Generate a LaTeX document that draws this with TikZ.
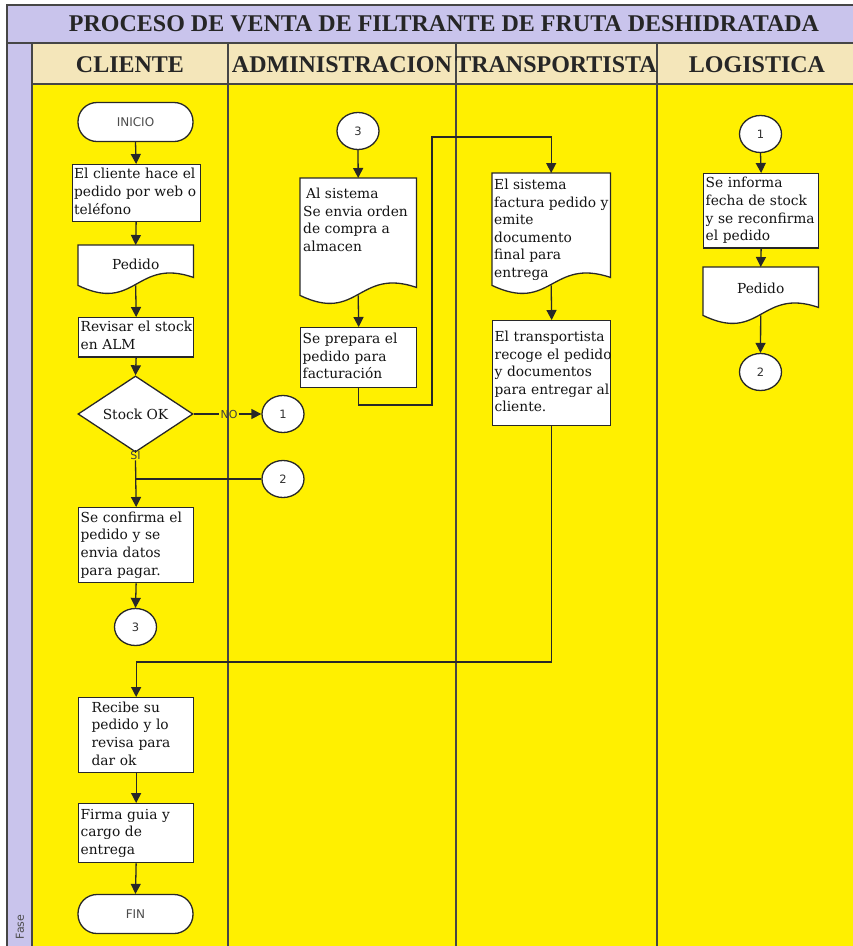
\documentclass[tikz,border=0pt]{standalone}
\usepackage{fontspec}
\setmainfont{Liberation Serif}
\newfontfamily\boxfont{DejaVu Serif}
\newfontfamily\sansfont{DejaVu Sans}
\usetikzlibrary{shapes.geometric,arrows.meta,calc}
\definecolor{lav}{RGB}{201,196,236}
\definecolor{hdr}{RGB}{244,230,186}
\definecolor{lane}{RGB}{255,240,0}
\definecolor{frm}{RGB}{70,70,70}
\definecolor{linec}{RGB}{40,40,40}
\newcommand\tx[1]{\begin{tabular}{@{}l@{}}#1\end{tabular}}
\newcommand\txi[1]{\begin{tabular}{@{\hspace{11pt}}l@{}}#1\end{tabular}}
\newcommand\docpath[1]{\draw[docline] (#1.north west) -- (#1.north east) -- ($(#1.south east)+(0,-8)$) .. controls ($(#1.south)+(0,-28)$) and ($(#1.south)+(0,28)$) .. (#1.south west) -- cycle;}
\begin{document}
\begin{tikzpicture}[x=1pt,y=-1pt,
  bt/.style={font=\boxfont\fontsize{13.8}{17.6}\selectfont, text=black!92},
  proc/.style={bt, draw=linec, fill=white, line width=1.3pt, anchor=north west, align=left, inner xsep=2pt, inner ysep=2pt},
  term/.style={draw=linec, fill=white, line width=1.3pt, rounded corners=19pt, minimum width=115pt, minimum height=39pt, inner sep=0pt, font=\sansfont\fontsize{12}{14}\selectfont, text=black!70},
  conn/.style={ellipse, draw=linec, fill=white, line width=1.3pt, minimum width=42pt, minimum height=37pt, inner sep=0pt, font=\sansfont\fontsize{11.5}{13}\selectfont, text=black!80},
  dec/.style={diamond, draw=linec, fill=white, line width=1.3pt, minimum width=115pt, minimum height=57pt, inner sep=0pt, bt},
  docn/.style={draw=none, anchor=north west, inner sep=0pt},
  docline/.style={draw=linec, fill=white, line width=1.3pt},
  doctxt/.style={bt, anchor=north west, align=left, inner sep=0pt},
  arr/.style={draw=linec, line width=1.3pt, -{Triangle[length=10pt,width=10pt]}},
  plainln/.style={draw=linec, line width=1.3pt},
  lbl/.style={font=\sansfont\fontsize{11}{13}\selectfont, inner sep=1pt, text=black!75},
  hd/.style={font=\fontsize{24}{28}\selectfont\bfseries, text=black!85},
  frmln/.style={draw=frm, line width=1.3pt},
]
\useasboundingbox (0,0) rectangle (853,946);
% background
\fill[lav] (7,5) rectangle (853,946);
\fill[hdr] (32,43) rectangle (853,84);
\fill[lane] (32,84) rectangle (853,946);
\draw[frmln, line width=1.6pt] (7,946) -- (7,5) -- (853,5);
\draw[frmln] (7,43) -- (853,43);
\draw[frmln] (32,43) -- (32,946);
\draw[frmln] (32,84) -- (853,84);
\foreach \x in {228,456,657} \draw[frmln] (\x,43) -- (\x,946);
% titles
\node[hd] (title) at (444,24) {PROCESO DE VENTA DE FILTRANTE DE FRUTA DESHIDRATADA};
\node[hd] (hcli) at (130,65) {CLIENTE};
\node[hd] (hadm) at (342,65) {ADMINISTRACION};
\node[hd] (htra) at (556,65) {TRANSPORTISTA};
\node[hd] (hlog) at (757,65) {LOGISTICA};
\node[rotate=90, font=\sansfont\fontsize{11}{13}\selectfont, text=black!70] (fase) at (20,927) {Fase};
% CLIENTE lane
\node[term] (ini) at (135.5,122) {INICIO};
\node[proc, text width=124pt, minimum height=55pt] (c1) at (71.5,164) {\tx{El cliente hace el\\pedido por web o\\teléfono}};
\node[docn, minimum width=115pt, minimum height=40pt] (dp1) at (78,245) {};
\docpath{dp1}
\node[bt] (dp1t) at ($(dp1.center)+(0,-1)$) {Pedido};
\node[proc, text width=111pt, minimum height=39pt] (c3) at (78,317) {\tx{Revisar el stock\\en ALM}};
\node[dec] (dia) at (135.5,414) {Stock OK};
\node[conn] (L1) at (283,414) {1};
\node[lbl] (no) at (229,414) {NO};
\node[lbl] (si) at (135.5,455) {SI};
\node[conn] (L2) at (283,479) {2};
\node[proc, text width=111pt, minimum height=75pt] (c5) at (78,507) {\tx{Se confirma el\\pedido y se\\envia datos\\para pagar.}};
\node[conn] (C3) at (135.5,627) {3};
\node[proc, text width=111pt, minimum height=75pt] (c6) at (78,697) {\txi{Recibe su\\pedido y lo\\revisa para\\dar ok}};
\node[proc, text width=111pt, minimum height=59pt] (c7) at (78,803) {\tx{Firma guia y\\cargo de\\entrega}};
\node[term] (fin) at (135.5,914) {FIN};
% ADMINISTRACION lane
\node[conn] (A3) at (358,131) {3};
\node[docn, minimum width=116pt, minimum height=117pt] (dA) at (300,178) {};
\docpath{dA}
\node[doctxt] (dAt) at (303,186) {\tx{\hspace{3pt}Al sistema\\Se envia orden\\de compra a\\almacen}};
\node[proc, text width=112pt, minimum height=60pt] (a2) at (300,327) {\tx{Se prepara el\\pedido para\\facturación}};
% TRANSPORTISTA lane
\node[docn, minimum width=118pt, minimum height=112pt] (dT) at (492,173) {};
\docpath{dT}
\node[doctxt] (dTt) at (494,177) {\tx{El sistema\\factura pedido y\\emite\\documento\\final para\\entrega}};
\node[proc, text width=114pt, minimum height=105pt] (t2) at (492,320) {\tx{El transportista\\recoge el pedido\\y documentos\\para entregar al\\cliente.}};
% LOGISTICA lane
\node[conn] (LL1) at (760.5,134) {1};
\node[proc, text width=111pt, minimum height=74pt] (l1) at (703,173) {\tx{Se informa\\fecha de stock\\y se reconfirma\\el pedido}};
\node[docn, minimum width=115pt, minimum height=48pt] (dL) at (703,267) {};
\docpath{dL}
\node[bt] (dLt) at ($(dL.center)+(0,-3)$) {Pedido};
\node[conn] (LL2) at (760.5,372) {2};
% junction coordinates
\coordinate (j1) at (0,662);
\coordinate (j2) at (432,405);
\coordinate (j3) at (432,137);
% connectors
\draw[arr] (ini.south) -- (c1.north);
\draw[arr] (c1.south) -- (dp1.north);
\draw[arr] (dp1.south) -- (c3.north);
\draw[arr] (c3.south) -- (dia.north);
\draw[plainln] (dia.east) -- (no.west);
\draw[arr] (no.east) -- (L1.west);
\draw[plainln] (dia.south) -- (si.north);
\draw[arr] (si.south) -- (c5.north);
\draw[plainln] (L2.west) -- (L2.west -| c5.north);
\draw[arr] (c5.south) -- (C3.north);
\draw[arr] (t2.south) -- (t2.south |- j1) -- (c6.north |- j1) -- (c6.north);
\draw[arr] (c6.south) -- (c7.north);
\draw[arr] (c7.south) -- (fin.north);
\draw[arr] (A3.south) -- (dA.north);
\draw[arr] (dA.south) -- (a2.north);
\draw[arr] (a2.south) -- (a2.south |- j2) -- (j2) -- (j3) -- (j3 -| dT.north) -- (dT.north);
\draw[arr] (dT.south) -- (t2.north);
\draw[arr] (LL1.south) -- (l1.north);
\draw[arr] (l1.south) -- (dL.north);
\draw[arr] (dL.south) -- (LL2.north);
\end{tikzpicture}
\end{document}
